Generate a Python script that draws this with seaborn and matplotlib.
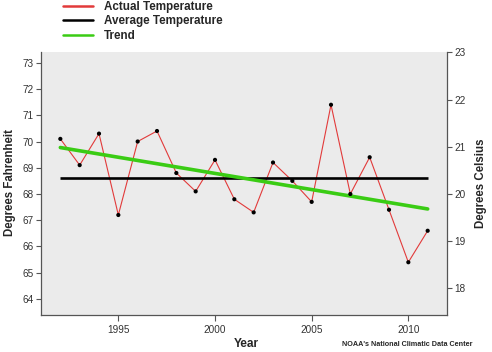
import matplotlib
matplotlib.use("Agg")
import matplotlib.pyplot as plt
import seaborn as sns
import numpy as np
import pandas as pd

years = [1992, 1993, 1994, 1995, 1996, 1997, 1998, 1999, 2000, 2001,
         2002, 2003, 2004, 2005, 2006, 2007, 2008, 2009, 2010, 2011]
temps_f = [70.1, 69.1, 70.3, 67.2, 70.0, 70.4, 68.8, 68.1, 69.3, 67.8,
           67.3, 69.2, 68.5, 67.7, 71.4, 68.0, 69.4, 67.4, 65.4, 66.6]
x_ticks = [1995, 2000, 2005, 2010]
f_ticks = [64, 65, 66, 67, 68, 69, 70, 71, 72, 73]
c_ticks = [18, 19, 20, 21, 22, 23]
legend_labels = ["Actual Temperature", "Average Temperature", "Trend"]

df = pd.DataFrame({"Year": years, "Temp": temps_f})

sns.set_style("ticks", {"axes.facecolor": "#ebebeb"})
plt.rcParams["font.family"] = ["Liberation Sans", "DejaVu Sans"]

W, H = 492, 352
fig = plt.figure(figsize=(W / 100, H / 100), dpi=100)
ax = fig.add_axes([41 / W, 1 - 315 / H, 406 / W, 263 / H])

red = "#e23a3a"
green = "#3acc14"

sns.lineplot(data=df, x="Year", y="Temp", ax=ax, color=red, linewidth=0.8)
avg = float(np.mean(temps_f))
ax.hlines(avg, years[0], years[-1], color="black", linewidth=1.9)
sns.regplot(data=df, x="Year", y="Temp", ax=ax, scatter=False, ci=None,
            truncate=True, line_kws={"color": green, "linewidth": 2.6})
sns.scatterplot(data=df, x="Year", y="Temp", ax=ax, color="black", s=9,
                edgecolor="none", zorder=5)

ax.set_xlim(1991, 2012)
ax.set_ylim(63.39, 73.41)
ax.set_xticks(x_ticks)
ax.set_yticks(f_ticks)

tick_color = "#555555"
ax.tick_params(axis="x", labelsize=7.2, colors=tick_color, labelcolor="#333333",
               length=4.5, width=0.8, pad=2.5)
ax.tick_params(axis="y", labelsize=7.2, colors=tick_color, labelcolor="#333333",
               length=3.5, width=0.8, pad=2)
for s in ["top", "right"]:
    ax.spines[s].set_visible(False)
for s in ["left", "bottom"]:
    ax.spines[s].set_color(tick_color)
    ax.spines[s].set_linewidth(0.9)

ax.set_xlabel("")
ax.set_ylabel("")

sec = ax.secondary_yaxis("right", functions=(lambda f: (f - 32) * 5 / 9,
                                             lambda c: c * 9 / 5 + 32))
sec.set_yticks(c_ticks)
sec.tick_params(labelsize=7.2, colors=tick_color, labelcolor="#333333",
                length=3.5, width=0.8, pad=1.5)
sec.spines["right"].set_color(tick_color)
sec.spines["right"].set_linewidth(0.9)

fig.text(246 / W, 1 - 344 / H, "Year", ha="center", va="center",
         fontsize=8.6, fontweight="bold")
fig.text(10 / W, 1 - 183 / H, "Degrees Fahrenheit", ha="center", va="center",
         rotation=90, fontsize=8.3, fontweight="bold")
fig.text(481 / W, 1 - 183 / H, "Degrees Celsius", ha="center", va="center",
         rotation=90, fontsize=8.3, fontweight="bold")

handles = [plt.Line2D([], [], color=red, linewidth=1.8),
           plt.Line2D([], [], color="black", linewidth=1.8),
           plt.Line2D([], [], color=green, linewidth=1.8)]
fig.legend(handles, legend_labels, loc="upper left",
           bbox_to_anchor=(62 / W, 1.0), frameon=False,
           prop={"size": 8.4, "weight": "bold"}, handlelength=2.57,
           handletextpad=0.94, labelspacing=0.19, borderaxespad=0, borderpad=0.1)

fig.text(472 / W, 1 - 344 / H, "NOAA's National Climatic Data Center",
         ha="right", va="center", fontsize=5.2, fontweight="bold")

fig.savefig("out.png", dpi=100)
